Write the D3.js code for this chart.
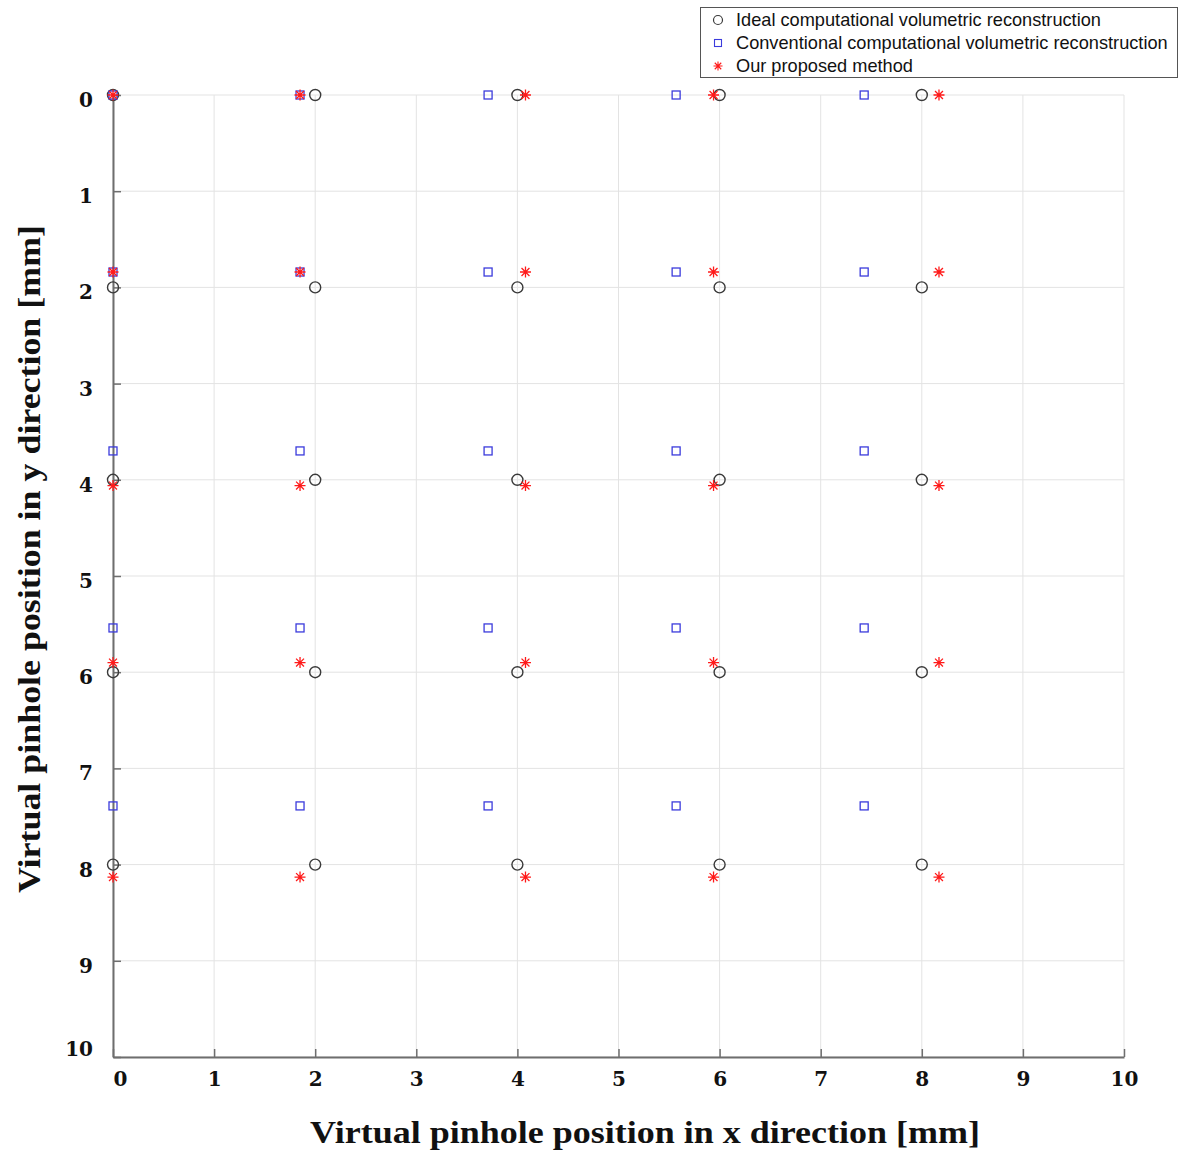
<!DOCTYPE html>
<html>
<head>
<meta charset="utf-8">
<script src="https://cdn.jsdelivr.net/npm/d3@7"></script>
<style>
  html, body { margin: 0; padding: 0; background: #fff; }
  svg { display: block; }
</style>
</head>
<body>
<svg id="chart" width="1187" height="1156"></svg>
<script>
// ---- data ----
const tickValues = [0,1,2,3,4,5,6,7,8,9,10];
const idealX = [0, 2, 4, 6, 8];
const idealY = [0, 2, 4, 6, 8];
const convX = [0, 1.85, 3.71, 5.57, 7.43];
const convY = [0, 1.84, 3.70, 5.54, 7.39];
const oursX = [0, 1.85, 4.08, 5.94, 8.17];
const oursY = [0, 1.84, 4.06, 5.90, 8.13];
const seriesNames = [
  "Ideal computational volumetric reconstruction",
  "Conventional computational volumetric reconstruction",
  "Our proposed method"
];
const xTitle = "Virtual pinhole position in x direction [mm]";
const yTitle = "Virtual pinhole position in y direction [mm]";

function grid(xs, ys) {
  const pts = [];
  ys.forEach(y => xs.forEach(x => pts.push({x, y})));
  return pts;
}
const idealPts = grid(idealX, idealY);
const convPts = grid(convX, convY);
const oursPts = grid(oursX, oursY);

// ---- layout ----
const svg = d3.select("#chart");
const pLeft = 113, pRight = 1124, pTop = 95, pBottom = 1057;
const x = d3.scaleLinear().domain([0, 10]).range([pLeft, pRight]);
const y = d3.scaleLinear().domain([0, 10]).range([pTop, pBottom]);

const serif = "'DejaVu Serif', serif";
const titleSerif = "'Liberation Serif', 'Times New Roman', serif";
const sans = "'Liberation Sans', Arial, sans-serif";

// grid
const g = svg.append("g");
g.selectAll("line.vg").data(tickValues).join("line")
  .attr("class", "vg")
  .attr("x1", d => x(d)).attr("x2", d => x(d))
  .attr("y1", pTop).attr("y2", pBottom)
  .attr("stroke", "#e3e3e3").attr("stroke-width", 1);
g.selectAll("line.hg").data(tickValues).join("line")
  .attr("class", "hg")
  .attr("y1", d => y(d)).attr("y2", d => y(d))
  .attr("x1", pLeft).attr("x2", pRight)
  .attr("stroke", "#e3e3e3").attr("stroke-width", 1);

// axes
const xAxis = d3.axisBottom(x).tickValues(tickValues).tickSize(-8).tickSizeOuter(0).tickFormat(d3.format("d"));
const yAxis = d3.axisLeft(y).tickValues(tickValues).tickSize(-8).tickSizeOuter(0).tickFormat(d3.format("d"));

const gx = svg.append("g").attr("transform", `translate(0,${pBottom})`).call(xAxis);
const gy = svg.append("g").attr("transform", `translate(${pLeft},0)`).call(yAxis);
[gx, gy].forEach(a => {
  a.select(".domain").attr("stroke", "#6e6e6e").attr("stroke-width", 2);
  a.selectAll(".tick line").attr("stroke", "#6e6e6e").attr("stroke-width", 1.5);
  a.selectAll(".tick text")
    .attr("font-family", serif).attr("font-weight", "bold")
    .attr("font-size", 20).attr("fill", "#111");
});
gx.selectAll(".tick text").attr("y", 15).attr("dy", "0.71em");
gx.selectAll(".tick").filter(d => d === 0).select("text").attr("dx", 7);
gy.selectAll(".tick text").attr("x", -20).attr("dy", "0.32em").attr("y", 5);
gy.selectAll(".tick").filter(d => d === 10).select("text").attr("y", -8);

// titles
svg.append("text")
  .attr("x", 645).attr("y", 1143)
  .attr("text-anchor", "middle")
  .attr("font-family", titleSerif).attr("font-weight", "bold").attr("font-size", 32)
  .attr("fill", "#111")
  .attr("textLength", 670).attr("lengthAdjust", "spacingAndGlyphs")
  .text(xTitle);
svg.append("text")
  .attr("transform", "translate(40,559) rotate(-90)")
  .attr("text-anchor", "middle")
  .attr("font-family", titleSerif).attr("font-weight", "bold").attr("font-size", 32)
  .attr("fill", "#111")
  .attr("textLength", 668).attr("lengthAdjust", "spacingAndGlyphs")
  .text(yTitle);

// marks
const circleColor = "#3a3a3a", squareColor = "#3b3bdc", starColor = "#ff1a1a";
svg.append("g").selectAll("circle").data(idealPts).join("circle")
  .attr("cx", d => x(d.x)).attr("cy", d => y(d.y)).attr("r", 5.5)
  .attr("fill", "none").attr("stroke", circleColor).attr("stroke-width", 1.4);

svg.append("g").selectAll("rect").data(convPts).join("rect")
  .attr("x", d => x(d.x) - 4).attr("y", d => y(d.y) - 4)
  .attr("width", 8).attr("height", 8)
  .attr("fill", "none").attr("stroke", squareColor).attr("stroke-width", 1.3);

const starPath = (cx, cy, r) => {
  const d = r * 0.72;
  return `M${cx - r},${cy}L${cx + r},${cy}` +
         `M${cx},${cy - r}L${cx},${cy + r}` +
         `M${cx - d},${cy - d}L${cx + d},${cy + d}` +
         `M${cx - d},${cy + d}L${cx + d},${cy - d}`;
};
svg.append("g").selectAll("path").data(oursPts).join("path")
  .attr("d", d => starPath(x(d.x), y(d.y), 5.5))
  .attr("fill", "none").attr("stroke", starColor).attr("stroke-width", 1.3);

// legend
const lg = svg.append("g");
lg.append("rect").attr("x", 700.5).attr("y", 7.5).attr("width", 477).attr("height", 70)
  .attr("fill", "#fff").attr("stroke", "#555").attr("stroke-width", 1);
const ly = [20, 43, 66];
lg.append("circle").attr("cx", 718).attr("cy", ly[0]).attr("r", 4.5)
  .attr("fill", "none").attr("stroke", circleColor).attr("stroke-width", 1.2);
lg.append("rect").attr("x", 714.5).attr("y", ly[1] - 3.5).attr("width", 7).attr("height", 7)
  .attr("fill", "none").attr("stroke", squareColor).attr("stroke-width", 1.1);
lg.append("path").attr("d", starPath(718, ly[2], 4.5))
  .attr("fill", "none").attr("stroke", starColor).attr("stroke-width", 1.1);
lg.selectAll("text").data(seriesNames).join("text")
  .attr("x", 736).attr("y", (d, i) => ly[i]).attr("dy", "0.35em")
  .attr("font-family", sans).attr("font-size", 18.2).attr("fill", "#111")
  .text(d => d);
</script>
</body>
</html>
